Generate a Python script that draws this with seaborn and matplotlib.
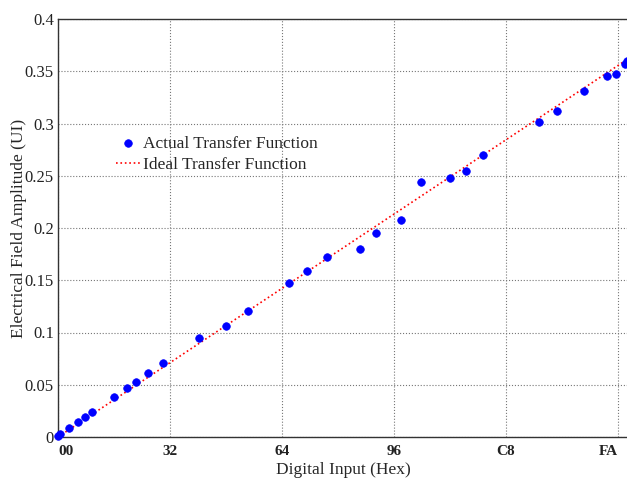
import numpy as np
import pandas as pd
import matplotlib
matplotlib.use("Agg")
import matplotlib.pyplot as plt
import seaborn as sns

# Data (digital code as integer, amplitude in UI)
actual_code = [0, 1, 5, 9, 12, 15, 25, 31, 35, 40, 47, 63, 75, 85, 103, 111, 120,
               135, 142, 153, 162, 175, 182, 190, 215, 223, 235, 245, 249, 253, 254]
actual_amp = [0.001, 0.003, 0.0084, 0.0145, 0.019, 0.024, 0.038, 0.047, 0.053, 0.061,
              0.071, 0.095, 0.106, 0.121, 0.147, 0.159, 0.172, 0.180, 0.195, 0.208,
              0.244, 0.248, 0.255, 0.270, 0.301, 0.312, 0.331, 0.345, 0.347, 0.357, 0.360]
ideal_code = [0, 255]
ideal_amp = [0.0, 0.3625]

xtick_vals = [0, 50, 100, 150, 200, 250]
xtick_labels = ["00", "32", "64", "96", "C8", "FA"]
ytick_vals = [0, 0.05, 0.1, 0.15, 0.2, 0.25, 0.3, 0.35, 0.4]
ytick_labels = ["0", "0.05", "0.1", "0.15", "0.2", "0.25", "0.3", "0.35", "0.4"]

sns.set_style("white")
plt.rcParams['font.family'] = ['Liberation Serif', 'DejaVu Serif']

fig = plt.figure(figsize=(6.27, 4.82), dpi=100)
ax = fig.add_axes([58/627, 45/482, 571/627, 418/482])

df_act = pd.DataFrame({"code": actual_code, "amp": actual_amp})
df_ideal = pd.DataFrame({"code": ideal_code, "amp": ideal_amp})

sns.lineplot(data=df_ideal, x="code", y="amp", ax=ax, color="red", linestyle=":",
             linewidth=1.2, label="Ideal Transfer Function", zorder=2)
sns.scatterplot(data=df_act, x="code", y="amp", ax=ax, color="blue", s=30,
                edgecolor="blue", linewidth=0.5, label="Actual Transfer Function",
                zorder=3, clip_on=False)

ax.set_xlim(0, 255)
ax.set_ylim(0, 0.4)
ax.set_xticks(xtick_vals)
ax.set_xticklabels(xtick_labels, fontweight="bold", fontsize=11)
xl = ax.get_xticklabels()
xl[0].set_ha("left")
xl[-1].set_ha("right")
ax.set_yticks(ytick_vals)
ax.set_yticklabels(ytick_labels, fontsize=12)
ax.tick_params(direction="in", length=4, width=0.8, colors="#222222", pad=3)
ax.tick_params(axis="x", pad=6)
ax.grid(True, linestyle=":", color="#777777", linewidth=0.8)
for s in ax.spines.values():
    s.set_color("#333333")
    s.set_linewidth(1.0)

ax.set_xlabel("Digital Input (Hex)", fontsize=12.5)
ax.set_ylabel("Electrical Field Amplitude (UI)", fontsize=12.5)
ax.xaxis.set_label_coords(0.5, -0.06)
ax.yaxis.set_label_coords(-0.054, 0.5)

handles, labels = ax.get_legend_handles_labels()
order = [labels.index("Actual Transfer Function"), labels.index("Ideal Transfer Function")]
ax.legend([handles[i] for i in order], [labels[i] for i in order],
          loc="upper left", bbox_to_anchor=(0.089, 0.7376), frameon=False,
          fontsize=12.5, handlelength=1.4, handletextpad=0.15, labelspacing=0.27,
          borderaxespad=0)

fig.savefig("out.png", dpi=100)
